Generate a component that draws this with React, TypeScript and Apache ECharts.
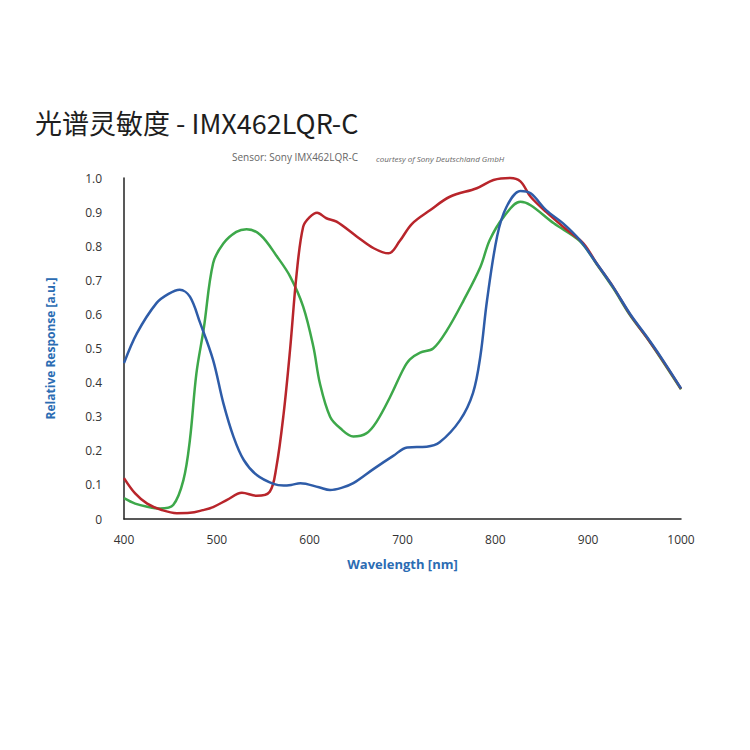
import React, { useEffect, useRef } from "react";
import * as echarts from "echarts";

const titleText = "光谱灵敏度 - IMX462LQR-C";
const subtitleMain = "Sensor: Sony IMX462LQR-C";
const subtitleCourtesy = "courtesy of Sony Deutschland GmbH";
const xAxisName = "Wavelength [nm]";
const yAxisName = "Relative Response [a.u.]";

const blueNm = [400, 414, 435, 448, 460, 471, 482, 496, 507, 518, 529, 543, 561, 572, 580, 590, 610, 622, 635, 647, 669, 690, 705, 726, 740, 762, 776, 784, 791, 802, 812, 827, 838, 855, 873, 891, 909, 927, 945, 963, 978, 1000];
const blueVal = [0.457, 0.545, 0.633, 0.66, 0.672, 0.652, 0.575, 0.466, 0.34, 0.241, 0.173, 0.129, 0.103, 0.098, 0.1, 0.105, 0.093, 0.085, 0.092, 0.105, 0.147, 0.185, 0.21, 0.212, 0.225, 0.29, 0.37, 0.48, 0.64, 0.83, 0.915, 0.962, 0.955, 0.905, 0.867, 0.818, 0.75, 0.68, 0.602, 0.535, 0.476, 0.383];

const redNm = [400, 412, 425, 440, 457, 471, 485, 496, 511, 527, 543, 557, 564, 572, 579, 586, 593, 600, 608, 618, 629, 651, 669, 685, 697, 710, 730, 751, 780, 798, 816, 827, 838, 855, 877, 895, 909, 927, 945, 963, 978, 1000];
const redVal = [0.12, 0.075, 0.045, 0.027, 0.017, 0.018, 0.026, 0.035, 0.056, 0.077, 0.068, 0.08, 0.15, 0.31, 0.5, 0.72, 0.857, 0.885, 0.898, 0.882, 0.872, 0.828, 0.794, 0.779, 0.815, 0.865, 0.906, 0.945, 0.97, 0.994, 1.0, 0.99, 0.945, 0.9, 0.848, 0.808, 0.75, 0.68, 0.6, 0.533, 0.474, 0.382];

const greenNm = [400, 412, 425, 439, 453, 464, 471, 478, 486, 496, 507, 521, 532, 547, 565, 579, 593, 604, 611, 622, 633, 647, 661, 672, 687, 701, 708, 719, 733, 748, 766, 784, 794, 809, 827, 838, 863, 891, 909, 927, 945, 963, 978, 1000];
const greenVal = [0.061, 0.045, 0.036, 0.031, 0.041, 0.114, 0.232, 0.427, 0.56, 0.75, 0.808, 0.842, 0.85, 0.833, 0.769, 0.711, 0.623, 0.505, 0.398, 0.3, 0.266, 0.242, 0.251, 0.285, 0.36, 0.44, 0.468, 0.488, 0.5, 0.554, 0.642, 0.74, 0.818, 0.886, 0.93, 0.92, 0.867, 0.815, 0.748, 0.677, 0.598, 0.532, 0.472, 0.38];

const zip = (xs: number[], ys: number[]) => xs.map((x, i) => [x, ys[i]]);

export default function App() {
  const ref = useRef<HTMLDivElement>(null);
  useEffect(() => {
    if (!ref.current) return;
    const chart = echarts.init(ref.current, undefined, { renderer: "svg" });
    const labelColor = "#2b6cb3";
    const lineSeries = (name: string, color: string, data: number[][]) => ({
      name,
      type: "line",
      data,
      smooth: 0.35,
      showSymbol: false,
      clip: false,
      lineStyle: { color, width: 2.5 },
      z: 3,
    });
    chart.setOption({
      animation: false,
      backgroundColor: "#fff",
      graphic: [
        {
          type: "text",
          left: 27,
          top: 101,
          style: {
            text: titleText,
            fontSize: 27,
            fontFamily: "Noto Sans CJK SC",
            fontWeight: "normal",
            fill: "#1e1e1e",
          },
        },
        {
          type: "text",
          left: 224,
          top: 144,
          style: {
            text: subtitleMain,
            fontSize: 10,
            fontFamily: "Open Sans",
            fill: "#666",
          },
        },
        {
          type: "text",
          left: 368,
          top: 146,
          style: {
            text: subtitleCourtesy,
            fontSize: 8,
            fontStyle: "italic",
            fontFamily: "Open Sans",
            fill: "#666",
          },
        },
      ],
      grid: { left: 116, right: 77, top: 170, bottom: 239, containLabel: false },
      xAxis: {
        type: "value",
        min: 400,
        max: 1000,
        interval: 100,
        name: xAxisName,
        nameLocation: "middle",
        nameGap: 38,
        nameTextStyle: { color: labelColor, fontWeight: "bold", fontSize: 13, fontFamily: "Open Sans" },
        axisLine: { show: true, lineStyle: { color: "#222", width: 1.5 } },
        axisTick: { show: false },
        splitLine: { show: false },
        axisLabel: { color: "#333", fontSize: 12, margin: 14, fontFamily: "Open Sans", formatter: (v: number) => String(v) },
      },
      yAxis: {
        type: "value",
        min: 0,
        max: 1,
        interval: 0.1,
        name: yAxisName,
        nameLocation: "middle",
        nameGap: 68,
        nameRotate: 90,
        nameTextStyle: { color: labelColor, fontWeight: "bold", fontSize: 12, fontFamily: "Open Sans" },
        axisLine: { show: true, lineStyle: { color: "#222", width: 1.5 } },
        axisTick: { show: false },
        splitLine: { show: false },
        axisLabel: {
          color: "#333",
          fontSize: 12,
          margin: 22,
          fontFamily: "Open Sans",
          formatter: (v: number) => (v === 0 ? "0" : v.toFixed(1)),
        },
      },
      series: [
        lineSeries("Green", "#3da84a", zip(greenNm, greenVal)),
        lineSeries("Red", "#b8252b", zip(redNm, redVal)),
        lineSeries("Blue", "#2e5ca8", zip(blueNm, blueVal)),
      ],
    });
    return () => chart.dispose();
  }, []);
  return <div ref={ref} style={{ width: 750, height: 750 }} />;
}
